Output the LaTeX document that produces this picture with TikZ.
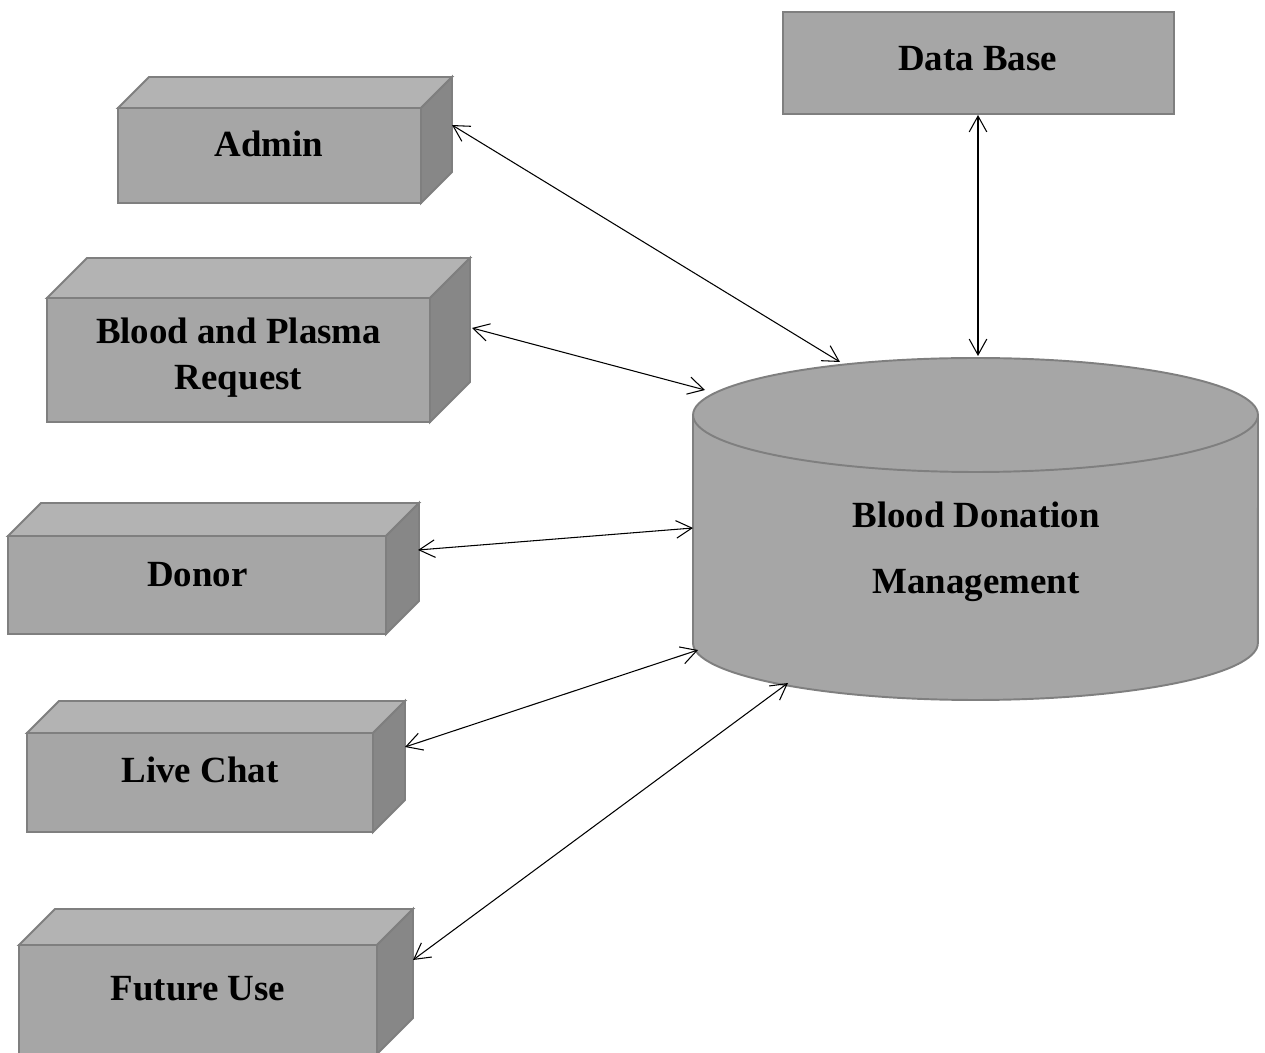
\documentclass[tikz,border=0pt]{standalone}
\usepackage{fontspec}
\setmainfont{Liberation Serif}
\usetikzlibrary{arrows.meta}
\definecolor{frontc}{HTML}{A6A6A6}
\definecolor{topc}{HTML}{B3B3B3}
\definecolor{sidec}{HTML}{878787}
\definecolor{edgec}{HTML}{7F7F7F}
\newcommand\solidbox[5]{%
 \draw[boxedge, fill=frontc] (#1,#2) rectangle (#3,#4);
 \draw[boxedge, fill=topc] (#1,#2) -- ({#1+#5},{#2-#5}) -- ({#3+#5},{#2-#5}) -- (#3,#2) -- cycle;
 \draw[boxedge, fill=sidec] (#3,#2) -- ({#3+#5},{#2-#5}) -- ({#3+#5},{#4-#5}) -- (#3,#4) -- cycle;}
\begin{document}
\begin{tikzpicture}[x=0.02cm,y=-0.02cm,
 boxedge/.style={draw=edgec, line width=1.1pt, line join=miter},
 lbl/.style={font=\bfseries\fontsize{21}{26}\selectfont, inner sep=0pt, align=center},
 cyllbl/.style={font=\bfseries\fontsize{21}{37.5}\selectfont, inner sep=0pt, align=center},
 link/.style={draw=black, line width=0.6pt, {Straight Barb[length=9pt,width=10pt]}-{Straight Barb[length=9pt,width=10pt]}}]
\useasboundingbox (0,0) rectangle (1265,1053);
\begin{scope}
\clip (0,0) rectangle (1265,1053);
% boxes
\solidbox{118}{108}{421}{203}{31}
\solidbox{47}{298}{430}{422}{40}
\solidbox{8}{536}{386}{634}{33}
\solidbox{27}{733}{373}{832}{32}
\solidbox{19}{945}{377}{1054}{36}
% data base
\draw[boxedge, fill=frontc] (783,12) rectangle (1174,114);
% cylinder
\fill[frontc] (975.5,643) ellipse [x radius=5.65cm, y radius=1.14cm];
\fill[frontc] (693,415) rectangle (1258,643);
\draw[boxedge] (693,415) -- (693,643) arc[start angle=180, end angle=360, x radius=5.65cm, y radius=1.14cm] -- (1258,415);
\draw[boxedge, fill=frontc] (975.5,415) ellipse [x radius=5.65cm, y radius=1.14cm];
\end{scope}
% labels
\node[lbl, anchor=base] (admin) at (269,157) {Admin};
\node[lbl] (bpr) at (238.5,357.5) {Blood and Plasma\\Request};
\node[lbl, anchor=base] (donor) at (197.5,587) {Donor};
\node[lbl, anchor=base] (chat) at (200,783) {Live Chat};
\node[lbl, anchor=base] (future) at (198,1000) {Future Use};
\node[lbl, anchor=base] (dbase) at (977.5,71) {Data Base};
\node[cyllbl] (bdm) at (976,551.5) {Blood Donation\\Management};
% connector end points
\coordinate (admin-e) at (452,125);
\coordinate (bdm-admin) at (840,362);
\coordinate (bpr-e) at (472,328);
\coordinate (bdm-bpr) at (705,390);
\coordinate (donor-e) at (418,550);
\coordinate (bdm-donor) at (693,528);
\coordinate (chat-e) at (405,747);
\coordinate (bdm-chat) at (698,650);
\coordinate (future-e) at (413,960);
\coordinate (bdm-future) at (788,683);
\coordinate (dbase-s) at (978,115);
\coordinate (bdm-dbase) at (978,356);
% connectors
\draw[link] (admin-e) -- (bdm-admin);
\draw[link] (bpr-e) -- (bdm-bpr);
\draw[link] (donor-e) -- (bdm-donor);
\draw[link] (chat-e) -- (bdm-chat);
\draw[link] (future-e) -- (bdm-future);
\draw[link] (dbase-s) -- (bdm-dbase);
\end{tikzpicture}
\end{document}
